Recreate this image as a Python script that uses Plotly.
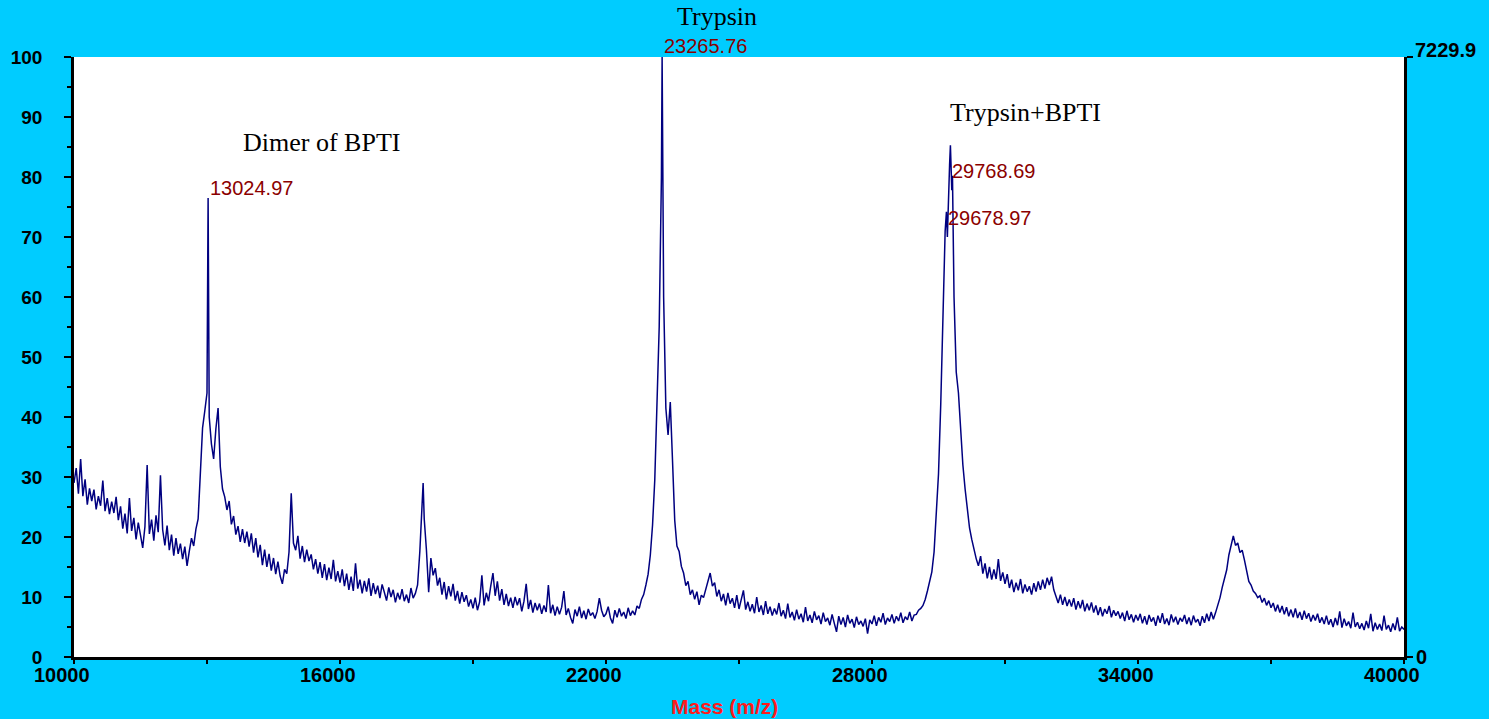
import plotly.graph_objects as go

# ---- data ----
mass_start = 10000
mass_step = 50

# relative intensity (%) sampled every 50 Da, 10000 .. 40000
int_10k = [29.0, 31.5, 27.2, 33.0, 26.8, 29.6, 25.4, 28.1, 26.0, 27.9, 24.6, 26.8, 25.2, 29.4, 24.3, 26.5, 23.8, 25.9, 24.0, 26.7]
int_11k = [22.8, 25.1, 21.4, 23.9, 20.6, 26.5, 21.0, 23.2, 19.6, 22.4, 20.3, 18.2, 21.7, 32.0, 20.5, 22.9, 19.4, 23.6, 20.8, 30.3]
int_12k = [21.2, 18.6, 21.9, 17.8, 20.4, 16.9, 19.8, 17.2, 18.9, 16.3, 18.4, 15.2, 17.6, 19.8, 18.5, 21.3, 23.0, 30.5, 38.2, 41.0]
int_13k = [44.0, 40.0, 35.5, 33.0, 38.0, 41.5, 31.7, 28.0, 26.7, 24.5, 26.0, 22.1, 23.5, 20.4, 21.8, 19.2, 21.3, 19.0, 20.9, 18.4]
int_14k = [20.6, 17.4, 19.8, 16.6, 18.7, 15.3, 17.9, 15.0, 17.2, 14.4, 16.5, 13.8, 15.9, 13.5, 12.2, 14.6, 13.9, 17.5, 27.3, 19.0]
int_15k = [17.8, 20.2, 16.4, 18.5, 15.8, 17.9, 16.0, 17.1, 14.6, 16.3, 13.9, 15.8, 13.2, 15.5, 12.8, 14.9, 13.0, 16.2, 12.6, 14.3]
int_16k = [12.4, 14.6, 11.8, 13.9, 11.2, 13.4, 11.0, 15.6, 11.4, 12.9, 10.6, 12.7, 10.9, 13.1, 10.2, 12.3, 10.5, 11.9, 9.8, 12.1]
int_17k = [10.8, 9.4, 11.6, 10.0, 11.2, 9.1, 10.7, 9.6, 11.3, 9.3, 10.4, 9.0, 11.5, 9.8, 10.6, 12.0, 17.5, 26.5, 23.0, 17.8]
int_18k = [10.8, 16.5, 13.6, 14.8, 11.9, 13.2, 10.4, 12.5, 9.6, 11.8, 10.1, 12.2, 9.4, 11.0, 8.9, 10.8, 9.2, 10.3, 8.4, 9.6]
int_19k = [8.1, 9.9, 7.8, 9.2, 13.6, 8.6, 10.7, 9.3, 11.8, 14.0, 10.2, 12.6, 9.4, 11.3, 8.7, 10.5, 8.5, 9.9, 8.2, 10.0]
int_20k = [8.6, 9.8, 7.6, 9.3, 12.2, 8.0, 9.5, 7.4, 9.0, 7.8, 8.9, 7.2, 8.6, 7.5, 12.0, 7.3, 8.7, 6.9, 8.4, 7.1]
int_21k = [8.3, 11.0, 7.0, 8.1, 6.6, 5.6, 7.9, 6.8, 8.4, 6.5, 7.7, 6.3, 8.0, 6.9, 7.4, 6.4, 7.6, 9.8, 7.8, 6.7]
int_22k = [7.2, 8.4, 6.5, 5.6, 7.8, 6.6, 8.1, 6.8, 7.5, 6.4, 8.2, 6.9, 7.7, 7.0, 8.5, 8.1, 9.6, 10.4, 12.0, 13.8]
int_23k = [17.0, 22.0, 29.5, 42.0, 55.0, 80.0, 60.0, 41.5, 37.0, 42.5, 32.8, 22.8, 18.5, 17.6, 15.1, 14.0, 11.9, 12.6, 10.4, 11.2]
int_24k = [9.6, 10.9, 8.7, 10.3, 9.9, 11.4, 12.5, 14.0, 11.8, 12.4, 10.1, 11.2, 9.3, 10.5, 8.6, 10.7, 8.9, 9.8, 8.2, 10.3]
int_25k = [8.0, 9.4, 11.1, 7.9, 9.2, 7.6, 8.8, 7.3, 10.0, 7.5, 8.6, 7.0, 9.3, 7.2, 8.4, 6.9, 8.1, 7.1, 9.0, 6.8]
int_26k = [7.8, 6.4, 8.9, 6.6, 7.5, 6.1, 7.9, 6.3, 7.2, 5.8, 8.3, 6.0, 7.0, 5.7, 7.6, 6.2, 6.9, 5.5, 7.4, 5.9]
int_27k = [6.5, 5.3, 7.1, 5.6, 4.2, 6.8, 5.4, 6.6, 5.0, 7.0, 5.6, 6.3, 4.9, 6.7, 5.4, 6.0, 5.1, 6.4, 3.9, 6.2]
int_28k = [5.5, 6.9, 5.2, 6.6, 5.8, 7.3, 5.4, 6.5, 5.9, 7.1, 5.6, 6.8, 6.0, 7.4, 5.7, 6.7, 6.2, 7.5, 6.0, 7.0]
int_29k = [7.1, 7.8, 8.1, 8.6, 9.6, 11.0, 12.6, 14.2, 17.5, 24.0, 30.5, 42.0, 58.0, 71.0, 70.0, 82.0, 77.8, 60.0, 47.5, 44.0]
int_30k = [37.0, 32.0, 28.0, 24.5, 21.5, 19.6, 17.8, 16.4, 15.2, 16.8, 13.9, 15.6, 13.1, 15.0, 12.9, 14.6, 13.0, 16.3, 12.7, 14.1]
int_31k = [12.2, 13.8, 11.5, 12.9, 10.8, 12.4, 11.1, 13.0, 10.6, 12.1, 10.9, 11.8, 10.4, 12.3, 10.9, 12.6, 11.2, 12.9, 11.4, 13.2]
int_32k = [12.0, 13.4, 11.2, 10.1, 9.0, 10.4, 8.7, 10.0, 8.5, 9.6, 8.4, 9.8, 7.9, 9.3, 8.1, 9.5, 7.6, 8.9, 7.8, 9.1]
int_33k = [7.4, 8.6, 7.0, 8.3, 6.8, 8.0, 7.2, 8.5, 6.6, 7.8, 6.9, 7.6, 6.4, 7.4, 6.0, 7.7, 6.2, 7.1, 5.8, 7.0]
int_34k = [6.1, 7.2, 5.6, 6.8, 5.4, 7.0, 5.9, 6.6, 5.2, 6.9, 5.7, 7.3, 5.5, 6.4, 5.3, 7.1, 5.8, 6.7, 5.4, 6.5]
int_35k = [5.9, 7.0, 5.5, 6.6, 5.3, 6.9, 5.8, 6.3, 5.2, 6.8, 5.7, 7.2, 6.0, 7.5, 6.3, 7.4, 8.6, 9.9, 11.6, 12.9]
int_36k = [14.5, 17.0, 18.8, 20.2, 18.6, 19.0, 17.4, 17.8, 16.2, 14.5, 12.6, 12.0, 11.0, 10.6, 9.9, 10.2, 9.1, 9.8, 8.6, 9.4]
int_37k = [8.2, 9.0, 7.6, 8.7, 7.4, 8.5, 7.1, 8.3, 6.8, 7.9, 6.6, 8.1, 6.5, 7.5, 6.2, 7.7, 6.4, 7.3, 5.9, 7.0]
int_38k = [6.1, 7.2, 5.7, 6.6, 5.5, 6.9, 5.4, 6.3, 5.0, 6.5, 5.3, 7.6, 4.9, 6.4, 5.2, 5.9, 4.8, 7.4, 5.0, 5.8]
int_39k = [4.7, 5.6, 4.5, 6.0, 4.8, 7.2, 4.3, 5.7, 4.6, 5.5, 4.4, 6.9, 4.6, 5.3, 4.2, 5.6, 4.5, 6.6, 4.3, 5.0]
int_40k = [4.6]

# labelled peak apexes and extra apex points
peak_mass = [13024.97, 17875.0, 23265.76, 29678.97, 29768.69, 29815.0]
peak_int = [76.5, 29.0, 100.0, 74.2, 85.3, 80.2]

# peak mass labels (x in Da, y in paper fraction of plot height)
peak_labels = ["13024.97", "23265.76", "29768.69", "29678.97"]
peak_label_x = [13024.97, 23265.76, 29768.69, 29678.97]
peak_label_y = [0.782, 1.019, 0.810, 0.732]

names = ["Dimer of BPTI", "Trypsin", "Trypsin+BPTI"]
names_x = [15583, 24503, 31473]
names_y = [0.857, 1.067, 0.907]

x_ticks = [10000, 16000, 22000, 28000, 34000, 40000]
y_max_counts = 7229.9

# ---- assemble series ----
intensity = (int_10k + int_11k + int_12k + int_13k + int_14k + int_15k + int_16k + int_17k + int_18k
             + int_19k + int_20k + int_21k + int_22k + int_23k + int_24k + int_25k + int_26k + int_27k
             + int_28k + int_29k + int_30k + int_31k + int_32k + int_33k + int_34k + int_35k + int_36k
             + int_37k + int_38k + int_39k + int_40k)
mass = [mass_start + i * mass_step for i in range(len(intensity))]
pairs = sorted(list(zip(mass, intensity)) + list(zip(peak_mass, peak_int)))
xs = [p[0] for p in pairs]
ys = [p[1] for p in pairs]

SANS = "Liberation Sans, Arial, sans-serif"
SERIF = "Liberation Serif, Times New Roman, serif"
BG = "#00CCFF"

fig = go.Figure()
fig.add_trace(go.Scatter(x=xs, y=ys, mode="lines", line=dict(color="#000080", width=1.5),
                         hoverinfo="skip", showlegend=False))
# invisible trace to activate the right axis
fig.add_trace(go.Scatter(x=[10000, 40000], y=[0, y_max_counts], yaxis="y2", mode="lines",
                         line=dict(width=0), hoverinfo="skip", showlegend=False))

annotations = []
for t, xv, yv in zip(peak_labels, peak_label_x, peak_label_y):
    annotations.append(dict(x=xv, y=yv, xref="x", yref="paper", text=t, showarrow=False,
                            xanchor="left", yanchor="middle",
                            font=dict(family=SANS, size=20, color="#8B0000")))
for t, xv, yv in zip(names, names_x, names_y):
    annotations.append(dict(x=xv, y=yv, xref="x", yref="paper", text=t, showarrow=False,
                            xanchor="center", yanchor="middle",
                            font=dict(family=SERIF, size=26, color="black")))
for v in x_ticks:
    annotations.append(dict(x=v, y=0, xref="x", yref="paper", text=f"{v}", showarrow=False,
                            xanchor="left", yanchor="middle", xshift=-42, yshift=-18,
                            font=dict(family=SANS, size=20, color="black", weight="bold")))
annotations.append(dict(x=1.0, y=1.0, xref="paper", yref="paper", text="7229.9",
                        showarrow=False, xanchor="left", yanchor="middle", xshift=9, yshift=7,
                        font=dict(family=SANS, size=20, color="black", weight="bold")))
annotations.append(dict(x=1.0, y=0, xref="paper", yref="paper", text="0",
                        showarrow=False, xanchor="left", yanchor="middle", xshift=10, yshift=0,
                        font=dict(family=SANS, size=20, color="black", weight="bold")))
annotations.append(dict(x=0.489, y=0, xref="paper", yref="paper", text="Mass (m/z)", showarrow=False,
                        xanchor="center", yanchor="middle", yshift=-49,
                        font=dict(family=SANS, size=21, color="#FF1A1A", weight="bold")))

fig.update_layout(
    width=1489, height=719,
    margin=dict(l=74, r=85, t=57, b=62, autoexpand=False),
    paper_bgcolor=BG, plot_bgcolor="white",
    showlegend=False, hovermode=False,
    xaxis=dict(range=[10000, 40000], tickvals=x_ticks, showticklabels=False, automargin=False,
               ticks="outside", ticklen=4, tickwidth=1.5, tickcolor="black",
               minor=dict(tickvals=[13000, 19000, 25000, 31000, 37000], ticks="outside",
                          ticklen=4, tickwidth=1.5, tickcolor="black"),
               showline=True, linecolor="black", linewidth=2.5, showgrid=False, zeroline=False),
    yaxis=dict(range=[0, 100], tick0=0, dtick=10, ticks="outside", ticklen=7, tickwidth=1.5,
               tickcolor="black", ticklabelstandoff=18, automargin=False,
               minor=dict(dtick=5, ticks="outside", ticklen=4, tickwidth=1.5, tickcolor="black"),
               tickfont=dict(family=SANS, size=19, color="black", weight="bold"),
               showline=True, linecolor="black", linewidth=2.5, showgrid=False, zeroline=False),
    yaxis2=dict(range=[0, y_max_counts], overlaying="y", side="right", automargin=False,
                tickvals=[0, y_max_counts], showticklabels=False, ticks="outside",
                ticklen=6, tickwidth=1.5, tickcolor="black",
                showline=True, linecolor="black", linewidth=2.5, showgrid=False, zeroline=False),
    annotations=annotations,
)

fig.write_html("out.html", config={"displayModeBar": False})
